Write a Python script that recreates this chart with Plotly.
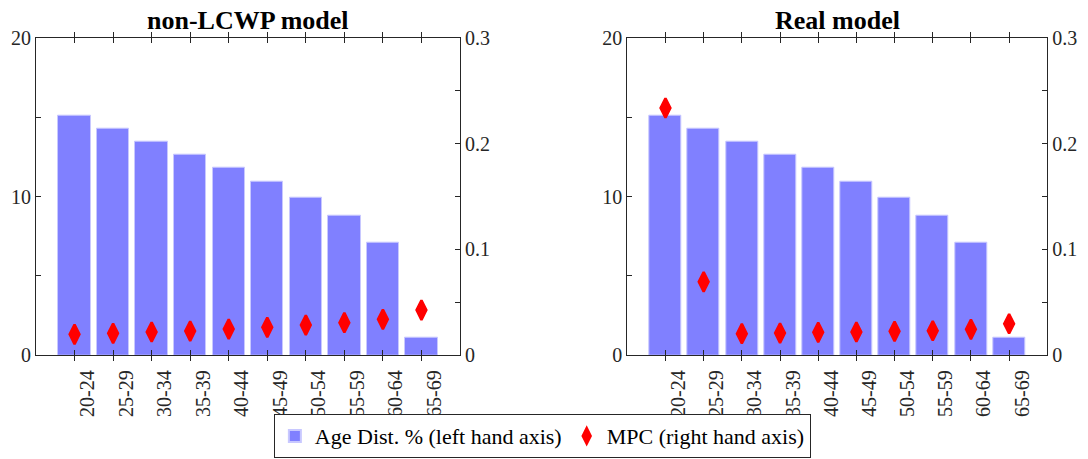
import plotly.graph_objects as go

age_groups = ["20-24", "25-29", "30-34", "35-39", "40-44", "45-49", "50-54", "55-59", "60-64", "65-69"]
age_dist = [15.11, 14.27, 13.45, 12.66, 11.84, 10.93, 9.95, 8.82, 7.12, 1.11]
mpc_nonlcwp = [0.0198, 0.0208, 0.0220, 0.0229, 0.0248, 0.0264, 0.0286, 0.0308, 0.0340, 0.0427]
mpc_real = [0.2336, 0.0694, 0.0204, 0.0210, 0.0217, 0.0220, 0.0226, 0.0232, 0.0245, 0.0298]
panel_titles = ["non-LCWP model", "Real model"]

FONT = "Liberation Serif"
AX = "#262626"
BAR = "#8080FF"
xpos = list(range(1, len(age_groups) + 1))

fig = go.Figure()

panels = [
    dict(x="x", y="y", y2="y2", mpc=mpc_nonlcwp),
    dict(x="x2", y="y3", y2="y4", mpc=mpc_real),
]
for i, p in enumerate(panels):
    fig.add_trace(go.Bar(
        x=xpos, y=age_dist, xaxis=p["x"], yaxis=p["y"], width=0.84,
        marker=dict(color=BAR, line=dict(color="#c8c8ff", width=1)),
        name="Age Dist. % (left hand axis)", showlegend=(i == 0),
    ))
    fig.add_trace(go.Scatter(
        x=xpos, y=p["mpc"], xaxis=p["x"], yaxis=p["y2"], mode="markers",
        marker=dict(symbol="diamond-tall", size=14, color="#FF0000",
                    line=dict(color="#FF0000", width=2.5)),
        name="MPC (right hand axis)", showlegend=(i == 0),
    ))

ydom = [1 - 355.3 / 459, 1 - 37.7 / 459]
xdoms = [[36 / 1088, 460 / 1088], [627.3 / 1088, 1047.3 / 1088]]
tickfont = dict(family=FONT, size=20, color=AX)

def xaxis(dom, anchor):
    return dict(domain=dom, anchor=anchor, range=[0, 11], tickmode="array",
                tickvals=xpos, ticktext=age_groups, tickangle=-90,
                ticks="inside", ticklen=5, tickcolor=AX, mirror="allticks",
                showline=True, linecolor=AX, linewidth=1, showgrid=False,
                zeroline=False, ticklabelshift=13, ticklabelstandoff=6,
                tickfont=tickfont)

def yleft(dom, anchor):
    return dict(domain=dom, anchor=anchor, range=[0, 20], tickmode="array",
                tickvals=[0, 5, 10, 15, 20], ticktext=["0", "", "10", "", "20"],
                ticks="inside", ticklen=5, tickcolor=AX, showline=True,
                linecolor=AX, linewidth=1, showgrid=False, zeroline=False,
                mirror=True, tickfont=tickfont)

def yright(over, anchor):
    return dict(overlaying=over, anchor=anchor, side="right", range=[0, 0.3],
                tickmode="array", tickvals=[0, 0.05, 0.1, 0.15, 0.2, 0.25, 0.3],
                ticktext=["0", "", "0.1", "", "0.2", "", "0.3"],
                ticks="inside", ticklen=5, tickcolor=AX, showline=True,
                linecolor=AX, linewidth=1, showgrid=False, zeroline=False,
                tickfont=tickfont)

fig.update_layout(
    width=1088, height=459,
    margin=dict(l=0, r=0, t=0, b=0, autoexpand=False),
    paper_bgcolor="white", plot_bgcolor="white",
    font=dict(family=FONT, size=20, color=AX),
    bargap=0,
    xaxis=xaxis(xdoms[0], "y"),
    xaxis2=xaxis(xdoms[1], "y3"),
    yaxis=yleft(ydom, "x"),
    yaxis2=yright("y", "x"),
    yaxis3=yleft(ydom, "x2"),
    yaxis4=yright("y3", "x2"),
    showlegend=True,
    legend=dict(orientation="h", x=0.4985, xanchor="center", y=0.002, yanchor="bottom",
                bordercolor=AX, borderwidth=1, bgcolor="white",
                font=dict(family=FONT, size=22, color="black"),
                itemsizing="constant", tracegroupgap=0, itemwidth=30),
)

for dom, t in zip(xdoms, panel_titles):
    fig.add_annotation(text="<b>" + t + "</b>", x=(dom[0] + dom[1]) / 2, y=1 - 20 / 459,
                       xref="paper", yref="paper", showarrow=False,
                       xanchor="center", yanchor="middle",
                       font=dict(family=FONT, size=26, color="black"))

fig.write_html("out.html")
